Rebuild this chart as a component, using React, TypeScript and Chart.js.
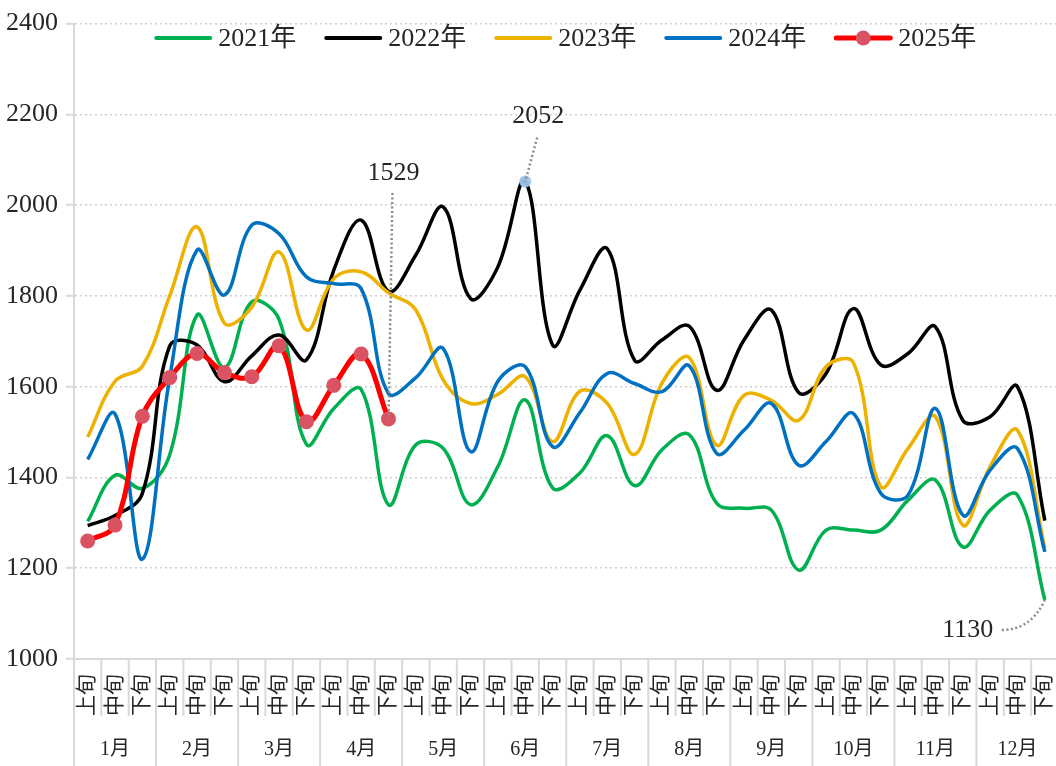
import React, { useEffect, useRef } from 'react';
import { Chart, registerables } from 'chart.js';

Chart.register(...registerables);

// ---------- data ----------
const months = ['1月', '2月', '3月', '4月', '5月', '6月', '7月', '8月', '9月', '10月', '11月', '12月'];
const tenDays = ['上旬', '中旬', '下旬'];
const categoryLabels = months.flatMap(() => tenDays);

const seriesNames = ['2021年', '2022年', '2023年', '2024年', '2025年'];

const values2021 = [
  1303, 1405, 1376, 1450, 1758, 1642, 1787, 1748, 1473, 1552, 1594, 1340,
  1472, 1464, 1340, 1424, 1571, 1377, 1410, 1492, 1382, 1461,
  1494, 1343, 1332, 1328, 1196, 1284, 1284, 1284, 1350, 1394, 1247, 1328, 1361, 1130,
];
const values2022 = [
  1294, 1316, 1365, 1690, 1692, 1611, 1668, 1714, 1659, 1857, 1967, 1810,
  1890, 1996, 1794, 1864, 2052, 1692, 1813, 1904, 1658, 1703,
  1733, 1592, 1703, 1769, 1587, 1629, 1772, 1648, 1673, 1732, 1526, 1534, 1600, 1305,
];
const values2023 = [
  1489, 1612, 1645, 1800, 1952, 1740, 1775, 1897, 1725, 1838, 1853, 1807,
  1769, 1615, 1563, 1583, 1622, 1479, 1590, 1563, 1451, 1608,
  1664, 1471, 1581, 1570, 1526, 1644, 1653, 1380, 1464, 1534, 1295, 1424, 1504, 1245,
];
const values2024 = [
  1440, 1540, 1220, 1620, 1901, 1802, 1956, 1937, 1842, 1827, 1816, 1585,
  1620, 1684, 1457, 1612, 1644, 1468, 1543, 1629, 1607, 1589,
  1646, 1453, 1504, 1563, 1427, 1479, 1541, 1365, 1361, 1552, 1317, 1416, 1464, 1236,
];
const values2025 = [1260, 1295, 1535, 1620, 1673, 1631, 1622, 1690, 1523, 1603, 1672, 1529];

const seriesValues = [values2021, values2022, values2023, values2024, values2025];

const yMin = 1000;
const yMax = 2400;
const yStep = 200;

// data callouts: which series / which category gets a value label
const callouts = [
  { series: 4, index: 11 },
  { series: 1, index: 16 },
  { series: 0, index: 35 },
];

// ---------- styles ----------
const FONT = '"Liberation Serif", "Noto Sans CJK SC", serif';
const TEXT = '#262626';
const GRID = '#D9D9D9';
const colors = ['#00B050', '#000000', '#EDB100', '#0070C0', '#FF0000'];
const markerColor = '#DA5362';

// label offsets relative to the annotated point (px)
const calloutStyles = [
  { dx: 5, dy: -246, from: [4, -226], ctrl: null, marker: false },
  { dx: 13, dy: -65, from: [12, -44], ctrl: null, marker: true },
  { dx: -77, dy: 30, from: [-43, 30], ctrl: [-14, 30], marker: false },
];

const decorPlugin = {
  id: 'decor',
  afterDraw(chart: any) {
    const { ctx, chartArea: area, scales } = chart;
    const xs = scales.x;
    const ys = scales.y;
    const H = chart.height;
    const step = xs.getPixelForValue(1) - xs.getPixelForValue(0);
    ctx.save();

    // category / month separators in the axis area
    ctx.strokeStyle = GRID;
    ctx.lineWidth = 2;
    for (let k = 0; k <= categoryLabels.length; k++) {
      const px = xs.getPixelForValue(0) - step / 2 + k * step;
      const monthEdge = k % tenDays.length === 0;
      ctx.beginPath();
      ctx.moveTo(px, area.bottom);
      ctx.lineTo(px, monthEdge ? H : area.bottom + 57);
      ctx.stroke();
    }

    // month labels
    ctx.fillStyle = TEXT;
    ctx.font = `20px ${FONT}`;
    ctx.textAlign = 'center';
    ctx.textBaseline = 'middle';
    months.forEach((m, j) => {
      const cx = xs.getPixelForValue(j * tenDays.length + 1);
      ctx.fillText(m, cx, area.bottom + 91);
    });

    // legend
    ctx.font = `26px ${FONT}`;
    const lineLen = 54;
    const gap = 8;
    const itemGap = 30;
    const widths = seriesNames.map((n) => lineLen + gap + ctx.measureText(n).width);
    const total = widths.reduce((a, b) => a + b, 0) + itemGap * (seriesNames.length - 1);
    let lx = (area.left + area.right) / 2 - total / 2;
    const ly = 38;
    seriesNames.forEach((name, i) => {
      ctx.strokeStyle = colors[i];
      ctx.lineWidth = i === 4 ? 5 : 4;
      ctx.lineCap = 'round';
      ctx.beginPath();
      ctx.moveTo(lx, ly);
      ctx.lineTo(lx + lineLen, ly);
      ctx.stroke();
      if (i === 4) {
        ctx.fillStyle = markerColor;
        ctx.beginPath();
        ctx.arc(lx + lineLen / 2, ly, 7.5, 0, Math.PI * 2);
        ctx.fill();
      }
      ctx.fillStyle = TEXT;
      ctx.textAlign = 'left';
      ctx.fillText(name, lx + lineLen + gap, ly + 1);
      lx += widths[i] + itemGap;
    });

    // callouts
    callouts.forEach((c, k) => {
      const st = calloutStyles[k];
      const v = seriesValues[c.series][c.index];
      const px = xs.getPixelForValue(c.index);
      const py = ys.getPixelForValue(v);
      if (st.marker) {
        ctx.fillStyle = 'rgba(157,195,230,0.95)';
        ctx.beginPath();
        ctx.arc(px, py, 6, 0, Math.PI * 2);
        ctx.fill();
      }
      ctx.strokeStyle = '#8C8C8C';
      ctx.lineWidth = 2.5;
      ctx.lineCap = 'butt';
      ctx.setLineDash([2, 2.5]);
      ctx.beginPath();
      ctx.moveTo(px + st.from[0], py + st.from[1]);
      if (st.ctrl) {
        ctx.quadraticCurveTo(px + st.ctrl[0], py + st.ctrl[1], px, py);
      } else {
        ctx.lineTo(px, py);
      }
      ctx.stroke();
      ctx.setLineDash([]);
      ctx.fillStyle = TEXT;
      ctx.font = `26px ${FONT}`;
      ctx.textAlign = 'center';
      ctx.textBaseline = 'middle';
      ctx.fillText(String(v), px + st.dx, py + st.dy);
    });

    ctx.restore();
  },
};

export default function App() {
  const canvasRef = useRef<HTMLCanvasElement | null>(null);

  useEffect(() => {
    const canvas = canvasRef.current;
    if (!canvas) return;
    const datasets = seriesNames.map((name, i) => {
      const isLast = i === seriesNames.length - 1;
      return {
        label: name,
        data: seriesValues[i],
        borderColor: colors[i],
        backgroundColor: colors[i],
        borderWidth: isLast ? 5 : 3.5,
        tension: 0.38,
        pointRadius: isLast ? 7.5 : 0,
        pointHoverRadius: isLast ? 7.5 : 0,
        pointBackgroundColor: markerColor,
        pointBorderWidth: 0,
        order: seriesNames.length - 1 - i,
        fill: false,
      };
    });

    const chart = new Chart(canvas, {
      type: 'line',
      data: { labels: categoryLabels, datasets },
      plugins: [decorPlugin],
      options: {
        responsive: false,
        animation: false,
        layout: { padding: { top: 23, right: 2, left: 0, bottom: 0 } },
        plugins: {
          legend: { display: false },
          tooltip: { enabled: false },
        },
        scales: {
          x: {
            type: 'category',
            offset: true,
            grid: { display: false },
            border: { display: true, color: GRID, width: 2 },
            ticks: {
              autoSkip: false,
              minRotation: 90,
              maxRotation: 90,
              padding: 7,
              color: TEXT,
              font: { family: FONT, size: 21 },
            },
            afterFit: (s: any) => {
              s.height = 107;
              s.paddingLeft = 0;
              s.paddingRight = 0;
            },
          },
          y: {
            min: yMin,
            max: yMax,
            grid: {
              color: '#CFCFCF',
              lineWidth: 1.5,
              tickLength: 8,
              tickColor: GRID,
              tickWidth: 2,
              tickBorderDash: [],
            },
            border: { display: true, color: GRID, width: 2, dash: [2, 3] },
            ticks: {
              stepSize: yStep,
              padding: 8,
              color: TEXT,
              font: { family: FONT, size: 26 },
              callback: (v: any) => String(v),
            },
            afterFit: (s: any) => {
              s.width = 74;
            },
          },
        },
      },
    });
    return () => chart.destroy();
  }, []);

  return (
    <div style={{ position: 'fixed', left: 0, top: 0, width: 1066, height: 766, background: '#fff' }}>
      <canvas ref={canvasRef} width={1066} height={766} style={{ display: 'block' }} />
    </div>
  );
}
